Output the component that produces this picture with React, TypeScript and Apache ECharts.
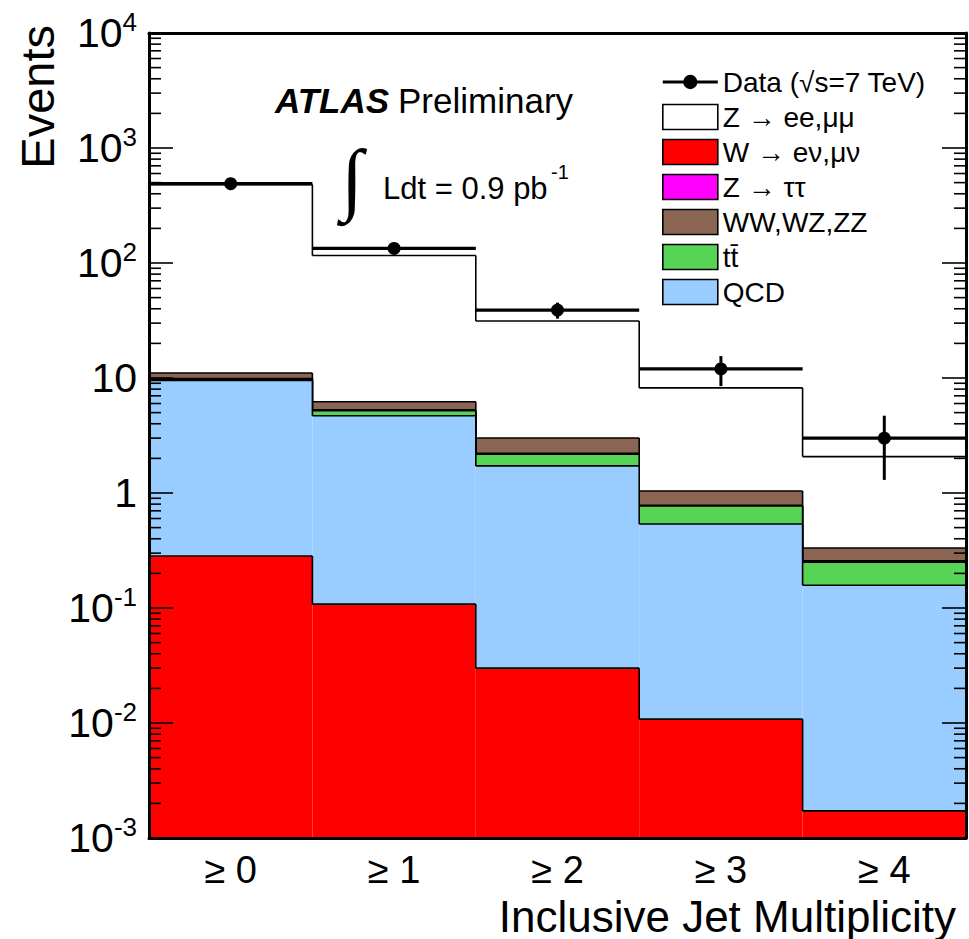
import React, { useEffect, useRef } from "react";
import * as echarts from "echarts";

// Inclusive jet multiplicity bins
const categories = ["≥ 0", "≥ 1", "≥ 2", "≥ 3", "≥ 4"];

// Observed events and their statistical uncertainties
const dataEvents = [490, 134, 39, 12, 3];
const dataErrors = [22, 11.6, 6.2, 3.5, 1.7];

// Expected contributions per bin (stacked bottom -> top: W, QCD, ttbar, Z->tautau, diboson, Z->ll)
const wLnu = [0.283, 0.108, 0.03, 0.0108, 0.00172];
const qcd = [9.25, 4.59, 1.69, 0.526, 0.156];
const ttbar = [0.25, 0.5, 0.46, 0.233, 0.093];
const zTauTau = [0.1, 0.08, 0.03, 0.01, 0.006];
const diboson = [1.17, 0.94, 0.8, 0.26, 0.076];
const zLL = [469, 110, 28.3, 7.16, 1.74];

// Y-axis range and decade ticks
const yMin = 0.001;
const yMax = 10000;
const yDecades = [0.001, 0.01, 0.1, 1, 10, 100, 1000, 10000];

const FONT = "'Liberation Sans', Arial, Helvetica, sans-serif";

const stackDefs = [
  { name: "W → eν,μν", values: wLnu, color: "#ff0000" },
  { name: "QCD", values: qcd, color: "#99ccff" },
  { name: "tt\u0304", values: ttbar, color: "#57d455" },
  { name: "Z → ττ", values: zTauTau, color: "#ff00ff" },
  { name: "WW,WZ,ZZ", values: diboson, color: "#8a6554" },
  { name: "Z → ee,μμ", values: zLL, color: "#ffffff" },
];

export default function App() {
  const ref = useRef<HTMLDivElement>(null);

  useEffect(() => {
    if (!ref.current) return;
    const chart = echarts.init(ref.current, undefined, { renderer: "svg" });

    // cumulative stack edges
    const lows: number[][] = [];
    const highs: number[][] = [];
    let running = categories.map(() => 0);
    stackDefs.forEach((d) => {
      const lo = running.slice();
      const hi = running.map((r, i) => r + d.values[i]);
      lows.push(lo);
      highs.push(hi);
      running = hi;
    });

    const histSeries = stackDefs
      .map((d, k) => ({
        name: d.name,
        type: "custom",
        z: 2,
        clip: true,
        itemStyle: { color: d.color },
        encode: { x: 0, y: [1, 2] },
        data: categories.map((_, i) => [
          i,
          Math.max(lows[k][i], yMin),
          highs[k][i],
          i > 0 ? highs[k][i - 1] : -1,
        ]),
        renderItem: (params: any, api: any) => {
          const i = api.value(0);
          const lo = api.value(1);
          const hi = api.value(2);
          const prevHi = api.value(3);
          const w = api.size([1, 0])[0];
          const top = api.coord([i, hi]);
          const bot = api.coord([i, lo]);
          const cs = params.coordSys;
          const yBot = Math.min(bot[1], cs.y + cs.height);
          const x0 = top[0] - w / 2;
          const x1 = top[0] + w / 2;
          const children: any[] = [
            {
              type: "rect",
              shape: { x: x0, y: top[1], width: w, height: yBot - top[1] },
              style: { fill: d.color, stroke: null },
            },
            {
              type: "line",
              shape: { x1: x0, y1: top[1], x2: x1, y2: top[1] },
              style: { stroke: "#000", lineWidth: 1.6 },
            },
          ];
          if (prevHi > 0) {
            const py = api.coord([i, prevHi])[1];
            children.push({
              type: "line",
              shape: { x1: x0, y1: py, x2: x0, y2: top[1] },
              style: { stroke: "#000", lineWidth: 1.6 },
            });
          }
          return { type: "group", children };
        },
      }))
      .reverse();

    // log-axis tick marks (major at decades, minor at 2..9), both sides of the frame
    const tickData: number[][] = [];
    yDecades.forEach((v) => tickData.push([0, v, 24]));
    yDecades.slice(0, -1).forEach((v) => {
      for (let k = 2; k <= 9; k++) tickData.push([0, v * k, 12]);
    });

    const tickSeries = {
      name: "ticks",
      type: "custom",
      z: 8,
      silent: true,
      encode: { x: 0, y: 1 },
      data: tickData,
      renderItem: (params: any, api: any) => {
        const y = api.coord([0, api.value(1)])[1];
        const len = api.value(2);
        const cs = params.coordSys;
        return {
          type: "group",
          children: [
            {
              type: "line",
              shape: { x1: cs.x, y1: y, x2: cs.x + len, y2: y },
              style: { stroke: "#000", lineWidth: 1.6 },
            },
            {
              type: "line",
              shape: { x1: cs.x + cs.width - len, y1: y, x2: cs.x + cs.width, y2: y },
              style: { stroke: "#000", lineWidth: 1.6 },
            },
          ],
        };
      },
    };

    const dataSeries = {
      name: "Data (√s=7 TeV)",
      type: "custom",
      z: 9,
      itemStyle: { color: "#000" },
      encode: { x: 0, y: 1 },
      data: dataEvents.map((v, i) => [i, v, dataErrors[i]]),
      renderItem: (params: any, api: any) => {
        const i = api.value(0);
        const v = api.value(1);
        const e = api.value(2);
        const c = api.coord([i, v]);
        const w = api.size([1, 0])[0];
        const yUp = api.coord([i, v + e])[1];
        const yDn = api.coord([i, Math.max(v - e, yMin)])[1];
        return {
          type: "group",
          children: [
            {
              type: "line",
              shape: { x1: c[0] - w / 2, y1: c[1], x2: c[0] + w / 2, y2: c[1] },
              style: { stroke: "#000", lineWidth: 3.2 },
            },
            {
              type: "line",
              shape: { x1: c[0], y1: yUp, x2: c[0], y2: yDn },
              style: { stroke: "#000", lineWidth: 3 },
            },
            {
              type: "circle",
              shape: { cx: c[0], cy: c[1], r: 6.5 },
              style: { fill: "#000" },
            },
          ],
        };
      },
    };

    const labelFmt = (val: number) => {
      const p = Math.round(Math.log10(val));
      if (p === 0) return "{b|1}";
      if (p === 1) return "{b|10}";
      return "{b|10}{s|" + p + "}";
    };

    const legendBox = (name: string, color: string) => ({
      name,
      icon: "rect",
      itemStyle: { color, borderColor: "#000", borderWidth: 1.6 },
    });

    chart.setOption({
      animation: false,
      backgroundColor: "#fff",
      grid: { left: 149, top: 33, width: 817, height: 805, containLabel: false },
      xAxis: [
        {
          type: "category",
          data: categories,
          position: "bottom",
          z: 10,
          axisLine: { lineStyle: { color: "#000", width: 3 } },
          axisTick: { inside: true, alignWithLabel: true, length: 24, lineStyle: { color: "#000", width: 1.6 } },
          axisLabel: { color: "#000", fontSize: 38, lineHeight: 38, fontFamily: FONT, margin: 13 },
          splitLine: { show: false },
        },
        {
          type: "category",
          data: categories,
          position: "top",
          z: 10,
          axisLine: { lineStyle: { color: "#000", width: 3 } },
          axisTick: { inside: true, alignWithLabel: true, length: 24, lineStyle: { color: "#000", width: 1.6 } },
          axisLabel: { show: false },
          splitLine: { show: false },
        },
      ],
      yAxis: [
        {
          type: "log",
          logBase: 10,
          min: yMin,
          max: yMax,
          position: "left",
          z: 10,
          axisLine: { show: true, lineStyle: { color: "#000", width: 3 } },
          axisTick: { show: false },
          splitLine: { show: false },
          axisLabel: {
            margin: 12,
            color: "#000",
            formatter: labelFmt,
            rich: {
              b: { fontSize: 41, fontFamily: FONT, color: "#000" },
              s: { fontSize: 26, fontFamily: FONT, color: "#000", padding: [0, 0, 22, 0] },
            },
          },
        },
        {
          type: "log",
          logBase: 10,
          min: yMin,
          max: yMax,
          position: "right",
          z: 10,
          axisLine: { show: true, lineStyle: { color: "#000", width: 3 } },
          axisTick: { show: false },
          axisLabel: { show: false },
          splitLine: { show: false },
        },
      ],
      legend: {
        orient: "vertical",
        left: 657,
        top: 63,
        itemWidth: 55,
        itemHeight: 25,
        itemGap: 7,
        selectedMode: false,
        textStyle: { fontSize: 28, color: "#000", fontFamily: FONT, lineHeight: 25 },
        data: [
          {
            name: "Data (√s=7 TeV)",
            icon: "path://M0,10 H54 V13 H0 Z M27,4.5 A7,7 0 1 1 27,18.5 A7,7 0 1 1 27,4.5 Z",
            itemStyle: { color: "#000", borderWidth: 0 },
          },
          legendBox("Z → ee,μμ", "#ffffff"),
          legendBox("W → eν,μν", "#ff0000"),
          legendBox("Z → ττ", "#ff00ff"),
          legendBox("WW,WZ,ZZ", "#8a6554"),
          legendBox("tt\u0304", "#57d455"),
          legendBox("QCD", "#99ccff"),
        ],
      },
      graphic: [
        {
          type: "text",
          x: 275,
          y: 100,
          style: {
            text: "ATLAS",
            fontSize: 35,
            fontWeight: "bold",
            fontStyle: "italic",
            fontFamily: FONT,
            fill: "#000",
            verticalAlign: "middle",
            textVerticalAlign: "middle",
          },
        },
        {
          type: "text",
          x: 398,
          y: 100,
          style: {
            text: "Preliminary",
            fontSize: 35,
            fontFamily: FONT,
            fill: "#000",
            verticalAlign: "middle",
            textVerticalAlign: "middle",
          },
        },
        {
          type: "text",
          x: 352,
          y: 178,
          style: {
            text: "∫",
            fontSize: 80,
            fontFamily: "'Liberation Serif', 'DejaVu Serif', serif",
            fill: "#000",
            align: "center",
            textAlign: "center",
            verticalAlign: "middle",
            textVerticalAlign: "middle",
          },
        },
        {
          type: "text",
          x: 383,
          y: 188,
          style: {
            text: "Ldt = 0.9 pb",
            fontSize: 31,
            fontFamily: FONT,
            fill: "#000",
            verticalAlign: "middle",
            textVerticalAlign: "middle",
          },
        },
        {
          type: "text",
          x: 551,
          y: 172,
          style: {
            text: "-1",
            fontSize: 20,
            fontFamily: FONT,
            fill: "#000",
            verticalAlign: "middle",
            textVerticalAlign: "middle",
          },
        },
        {
          type: "text",
          x: 956,
          y: 916,
          style: {
            text: "Inclusive Jet Multiplicity",
            fontSize: 44,
            lineHeight: 40,
            fontFamily: FONT,
            fill: "#000",
            align: "right",
            textAlign: "right",
            verticalAlign: "middle",
            textVerticalAlign: "middle",
          },
        },
        {
          type: "text",
          x: 37,
          y: 25,
          rotation: Math.PI / 2,
          style: {
            text: "Events",
            fontSize: 47,
            fontFamily: FONT,
            fill: "#000",
            align: "right",
            textAlign: "right",
            verticalAlign: "middle",
            textVerticalAlign: "middle",
          },
        },
      ],
      series: [...histSeries, tickSeries, dataSeries],
    });

    return () => chart.dispose();
  }, []);

  return (
    <div
      ref={ref}
      style={{ position: "fixed", left: 0, top: 0, width: 969, height: 939, background: "#fff" }}
    />
  );
}
